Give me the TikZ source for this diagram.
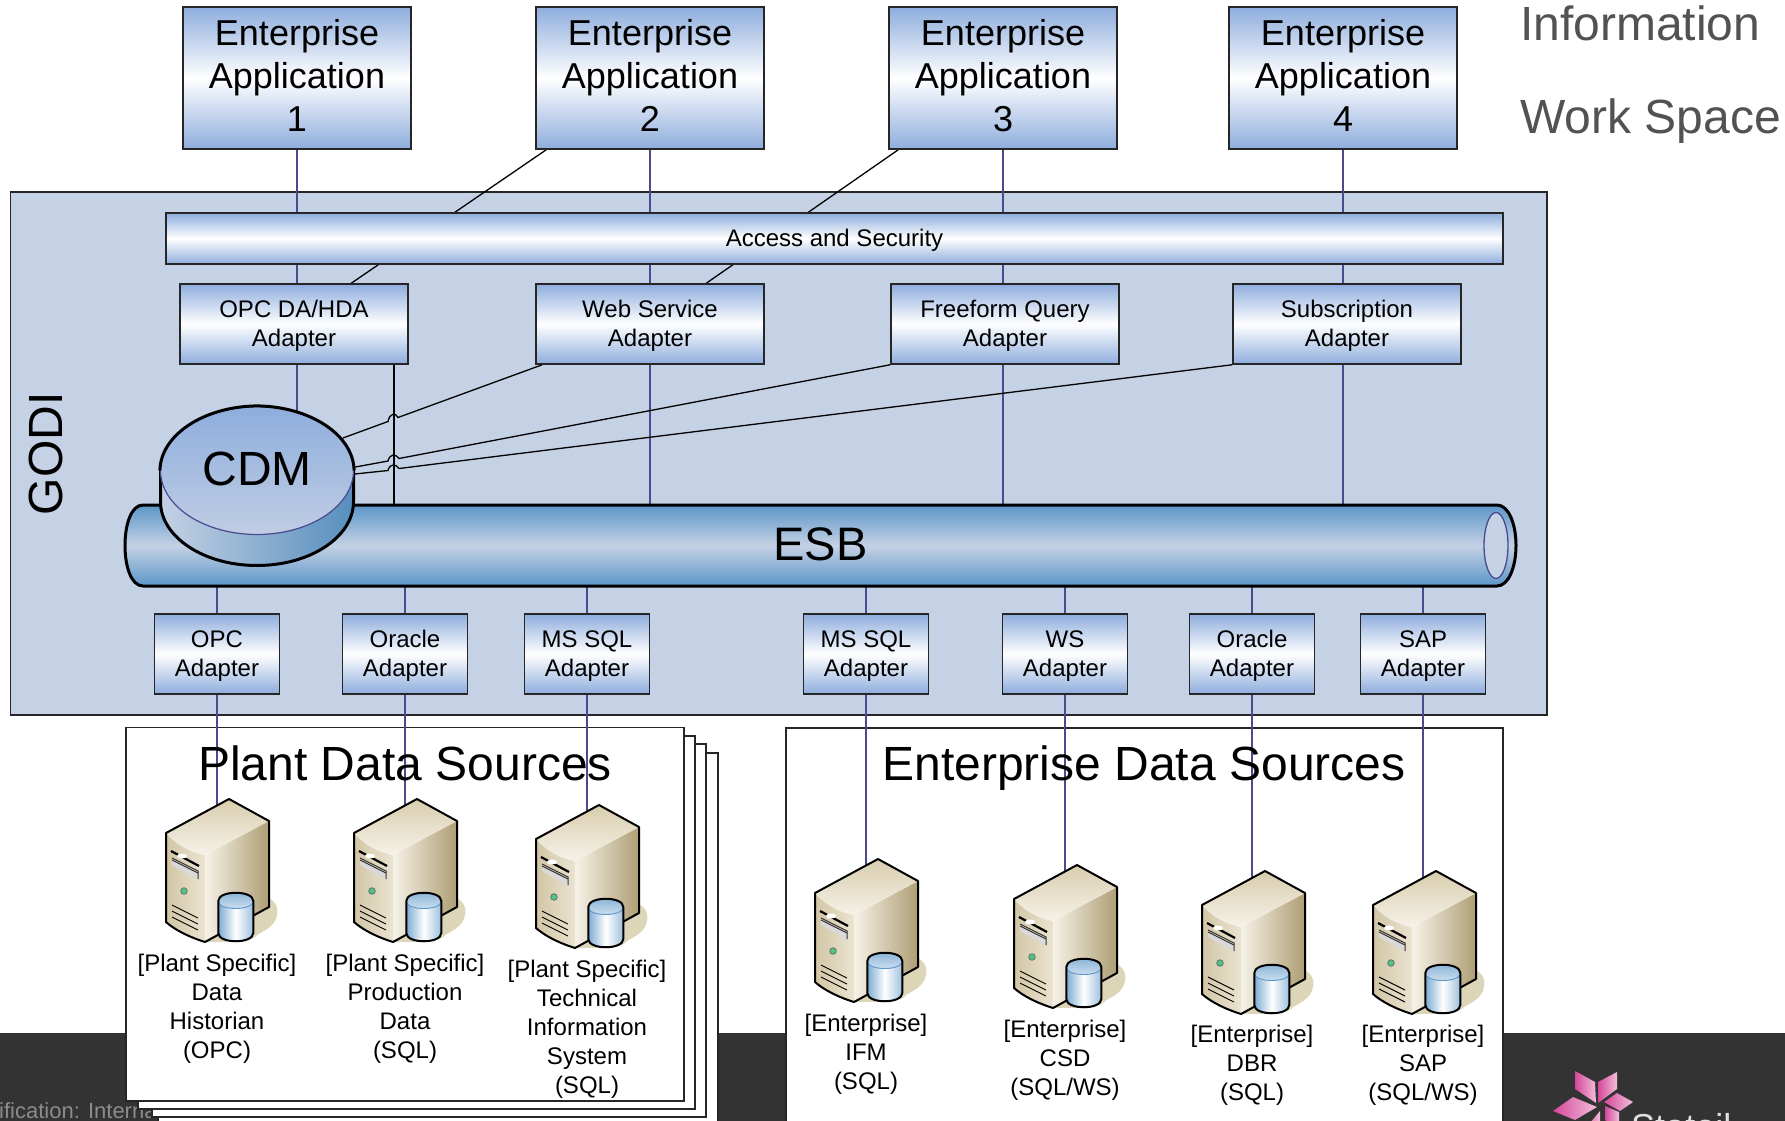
\documentclass[tikz,border=0pt]{standalone}
\usepackage{fontspec}
\setmainfont{Liberation Sans}
\usetikzlibrary{shapes.geometric}
\pgfdeclarelayer{back}
\pgfdeclarelayer{lines}
\pgfsetlayers{back,lines,main}
\definecolor{panel}{HTML}{C5D1E4}
\definecolor{gblue}{HTML}{8EADDD}
\definecolor{navy}{HTML}{4A4A8C}
\definecolor{esbblue}{HTML}{5B96C8}
\definecolor{band}{HTML}{333333}
\definecolor{tan}{HTML}{DDD5B8}
\definecolor{srvdark}{HTML}{AE9E74}
\definecolor{srvmid}{HTML}{D8CDAE}
\definecolor{srvlight}{HTML}{F6F2E7}
\definecolor{pinkdeep}{HTML}{D5479A}
\definecolor{pinklight}{HTML}{F2BFDA}
\newcommand{\fs}[2]{\fontsize{#1}{#2}\selectfont}
\newcommand{\dnrule}{\rule{0pt}{20pt}}
\tikzset{
  x=1pt, y=-1pt,
  gradbox/.style={draw=black!85, line width=1.5pt, top color=gblue, bottom color=gblue, middle color=white, inner sep=0pt, align=center, text=black},
  appbox/.style={gradbox, minimum width=228pt, minimum height=142pt, font=\fs{36}{43}, execute at end node={\rule[-4.6pt]{0pt}{0pt}}},
  topadapter/.style={gradbox, minimum width=228pt, minimum height=80pt, font=\fs{24}{29}},
  lowadapter/.style={gradbox, minimum width=125pt, minimum height=80pt, font=\fs{24}{29}},
  srclabel/.style={align=center, inner sep=0pt, font=\fs{24}{29}},
  title/.style={anchor=base, inner sep=0pt, font=\fs{48}{56}},
  navyline/.style={draw=navy, line width=1.3pt},
  blackline/.style={draw=black, line width=1.3pt},
  sheet/.style={draw=black!85, fill=white, line width=1.5pt},
  petal/.style={left color=pinkdeep, right color=pinklight, draw=none},
  server/.pic={
    \coordinate (-top) at (-12,8);
    \fill[tan] (30,96) .. controls (44,98) and (50,106) .. (48,116) .. controls (46,128) and (34,132) .. (28,136) .. controls (24,142) and (10,143) .. (-24,143) -- cycle;
    \path[left color=srvmid!85!srvdark, right color=srvlight!60!srvmid] (-63,34) .. controls (-50,48) and (-38,53) .. (-24,56) -- (-24,143) .. controls (-40,138) and (-54,131) .. (-63,123) -- cycle;
    \path[left color=srvlight, right color=srvdark] (-24,56) -- (40,22) -- (40,108) -- (-24,143) -- cycle;
    \path[top color=srvmid, bottom color=srvlight] (-63,34) -- (0,0) -- (40,22) -- (-24,56) .. controls (-38,53) and (-50,48) .. (-63,34) -- cycle;
    \draw[black, line width=2pt, line join=round] (-63,34) -- (0,0) -- (40,22) -- (40,108) -- (-24,143) .. controls (-40,138) and (-54,131) .. (-63,123) -- cycle;
    \draw[black, line width=2.2pt] (-58,52) -- (-30,67);
    \fill[white!85!black] (-57,60) -- (-31,73) -- (-31,81) -- (-57,66) -- cycle;
    \draw[black!80, line width=1pt] (-57,61) -- (-31,74);
    \draw[black!80, line width=1pt] (-57,59) -- (-31,72) -- (-31,80);
    \fill[white] (-47,57) ellipse [x radius=5, y radius=2.5];
    \draw[black!60, fill=green!35!teal!70!white, line width=.7pt] (-45,92) circle [radius=3.3];
    \draw[black, line width=.9pt] (-57,106) -- (-31,119);
    \draw[black, line width=.9pt] (-57,112) -- (-31,125);
    \draw[black, line width=.9pt] (-57,118) -- (-31,131);
    \path[left color=esbblue!80!white, right color=esbblue!60!white, middle color=white] (-10.7,102) -- (-10.7,134) .. controls (-10.7,145) and (24.3,145) .. (24.3,134) -- (24.3,102) -- cycle;
    \path[top color=esbblue!70!white, bottom color=white!70!esbblue] (6.8,102) ellipse [x radius=17.5, y radius=8];
    \draw[esbblue, line width=.9pt] (-10.7,102) .. controls (-10.7,112) and (24.3,112) .. (24.3,102);
    \draw[black, line width=2pt] (-10.7,102) -- (-10.7,134) .. controls (-10.7,145) and (24.3,145) .. (24.3,134) -- (24.3,102) .. controls (24.3,91) and (-10.7,91) .. (-10.7,102) -- cycle;
  }
}
\begin{document}
\begin{tikzpicture}
\useasboundingbox (0,0) rectangle (1785,1121);
\clip (0,0) rectangle (1785,1121);

\begin{pgfonlayer}{back}
  \fill[white] (0,0) rectangle (1785,1121);
  \fill[band] (0,1033) rectangle (1785,1121);
  \node[anchor=base west, inner sep=0pt, text=black!45, font=\fs{22}{26}] (classif) at (-1,1118) {ification: Interna};
  % logo
  \path[petal] (1575,1071) -- (1595,1082) -- (1596,1103) -- (1575,1089) -- cycle;
  \path[petal] (1617,1072) -- (1617,1089) -- (1598,1103) -- (1598,1082) -- cycle;
  \path[petal] (1633,1102) -- (1620,1111) -- (1604,1102) -- (1617,1093) -- cycle;
  \path[petal] (1553,1111) -- (1573,1097) -- (1597,1107) -- (1575,1120) -- cycle;
  \path[petal] (1605,1106) -- (1619,1112) -- (1619,1130) -- (1605,1120) -- cycle;
  \path[petal] (1600,1111) -- (1600,1130) -- (1584,1130) -- cycle;
  \node[anchor=base west, inner sep=0pt, text=black!12, font=\fs{36}{40}] (statoil) at (1631,1139.5) {Statoil};
  % panel
  \draw[draw=black!85, fill=panel, line width=1.5pt] (10.5,192) rectangle (1547,715);
  % stacked sheets
  \draw[sheet] (158,753) rectangle (718,1135);
  \draw[sheet] (152,744) rectangle (706,1117);
  \draw[sheet] (138,736) rectangle (695,1109);
  \draw[sheet] (126,727.5) rectangle (684,1101);
  \draw[sheet] (786,728) rectangle (1503,1135);
\end{pgfonlayer}

% top row
\node[appbox] (app1) at (297,78) {Enterprise\\Application\\1};
\node[appbox] (app2) at (650,78) {Enterprise\\Application\\2};
\node[appbox] (app3) at (1003,78) {Enterprise\\Application\\3};
\node[appbox] (app4) at (1343,78) {Enterprise\\Application\\4};
\node[anchor=base west, inner sep=0pt, text=black!68, font=\fs{48}{56}] (info) at (1520,41) {Information};
\node[anchor=base west, inner sep=0pt, text=black!68, font=\fs{48}{56}] (wspace) at (1520,134) {Work Space};

\node[rotate=90, inner sep=0pt, font=\fs{48}{50}] (godi) at (45.5,454) {GODI};

\node[gradbox, execute at begin node={\rule{0pt}{20pt}}, minimum width=1337pt, minimum height=51pt, font=\fs{24}{29}] (access) at (834.5,238.5) {Access and Security};
\node[topadapter] (opcda) at (294,324) {\dnrule OPC DA/HDA\\Adapter};
\node[topadapter] (webad) at (650,324) {\dnrule Web Service\\Adapter};
\node[topadapter] (freead) at (1005,324) {\dnrule Freeform Query\\Adapter};
\node[topadapter] (subad) at (1347,324) {\dnrule Subscription\\Adapter};

% ESB
\path[draw=black, line width=3pt, top color=esbblue, bottom color=esbblue, middle color=panel]
  (143,505) -- (1497,505) .. controls (1509,505) and (1516,525) .. (1516,545.5)
  .. controls (1516,566) and (1509,586) .. (1497,586) -- (143,586)
  .. controls (131,586) and (125,566) .. (125,545.5) .. controls (125,525) and (131,505) .. (143,505) -- cycle;
\draw[navy, line width=1.3pt, fill=panel] (1496,545.5) ellipse [x radius=12, y radius=33];
\node[minimum width=1391pt, minimum height=81pt, inner sep=0pt, font=\fs{47}{52}] (esb) at (820.5,545.5) {ESB\rule[-2.5pt]{0pt}{0pt}};

% CDM
\path[draw=black, line width=3pt, left color=panel, right color=esbblue!95!black]
  (160.5,470.5) -- (160.5,501.5) .. controls (160.5,537) and (203.7,565.5) .. (257,565.5)
  .. controls (310.3,565.5) and (353.5,537) .. (353.5,501.5) -- (353.5,470.5) -- cycle;
\node[ellipse, inner sep=0pt, minimum width=193pt, minimum height=128pt, draw=navy, line width=1.2pt, top color=gblue, bottom color=panel!90!gblue, font=\fs{48}{52}] (cdm) at (257,470.5) {CDM\rule[-4.5pt]{0pt}{0pt}};
\draw[black, line width=3pt] (cdm.west) .. controls (160.5,435) and (203.7,406.5) .. (cdm.north) .. controls (310.3,406.5) and (353.5,435) .. (cdm.east);

% lower adapters
\node[lowadapter] (a1) at (217,654) {\dnrule OPC\\Adapter};
\node[lowadapter] (a2) at (405,654) {\dnrule Oracle\\Adapter};
\node[lowadapter] (a3) at (587,654) {\dnrule MS SQL\\Adapter};
\node[lowadapter] (a4) at (866,654) {\dnrule MS SQL\\Adapter};
\node[lowadapter] (a5) at (1065,654) {\dnrule WS\\Adapter};
\node[lowadapter] (a6) at (1252,654) {\dnrule Oracle\\Adapter};
\node[lowadapter] (a7) at (1423,654) {\dnrule SAP\\Adapter};

% titles
\node[title] (plant) at (405,780) {Plant Data Sources};
\node[title] (ent) at (1144,780) {Enterprise Data Sources};

% servers
\pic (s1) at (229,799) {server};
\pic (s2) at (417,799) {server};
\pic (s3) at (599,805) {server};
\pic (s4) at (878,859) {server};
\pic (s5) at (1077,865) {server};
\pic (s6) at (1265,871) {server};
\pic (s7) at (1436,871) {server};

\node[srclabel] (l1) at (217,1009) {[Plant Specific]\\Data\\Historian\\(OPC)};
\node[srclabel] (l2) at (405,1009) {[Plant Specific]\\Production\\Data\\(SQL)};
\node[srclabel] (l3) at (587,1029) {[Plant Specific]\\Technical\\Information\\System\\(SQL)};
\node[srclabel] (l4) at (866,1054.5) {[Enterprise]\\IFM\\(SQL)};
\node[srclabel] (l5) at (1065,1060) {[Enterprise]\\CSD\\(SQL/WS)};
\node[srclabel] (l6) at (1252,1065) {[Enterprise]\\DBR\\(SQL)};
\node[srclabel] (l7) at (1423,1065) {[Enterprise]\\SAP\\(SQL/WS)};

% connectors
\coordinate (j1a) at (343,438);
\coordinate (j2a) at (350,468);
\coordinate (j3a) at (350,474.5);
\begin{pgfonlayer}{lines}
  \draw[navyline] (app1.south) -- (cdm.center -| app1.south);
  \draw[navyline] (app2.south) -- (app2.south |- esb.north);
  \draw[navyline] (app3.south) -- (app3.south |- esb.north);
  \draw[navyline] (app4.south) -- (app4.south |- esb.north);
  \foreach \n/\s in {a1/s1,a2/s2,a3/s3,a4/s4,a5/s5,a6/s6,a7/s7}{
    \draw[navyline] (esb.south -| \n.north) -- (\n.north);
    \draw[navyline] (\n.south) -- (\n.south |- \s-top);
  }
  \draw[blackline] ([xshift=11pt]app2.south west) -- ([xshift=172pt]opcda.north west);
  \draw[blackline] ([xshift=10pt]app3.south west) -- ([xshift=171pt]webad.north west);
  \draw[blackline] ([xshift=100pt]opcda.south) -- ([xshift=100pt]opcda.south |- esb.north);
  \draw[blackline] (webad.south west) ++(7,0) -- (398,417.5) .. controls (396,413) and (390,412) .. (388,421.5) -- (j1a);
  \draw[blackline] (freead.south west) -- (399,458.5) .. controls (396,454) and (390,453) .. (388,461) -- (j2a);
  \draw[blackline] (subad.south west) -- (399,468.5) .. controls (396,464) and (390,463) .. (388,470.5) -- (j3a);
\end{pgfonlayer}
\end{tikzpicture}
\end{document}
